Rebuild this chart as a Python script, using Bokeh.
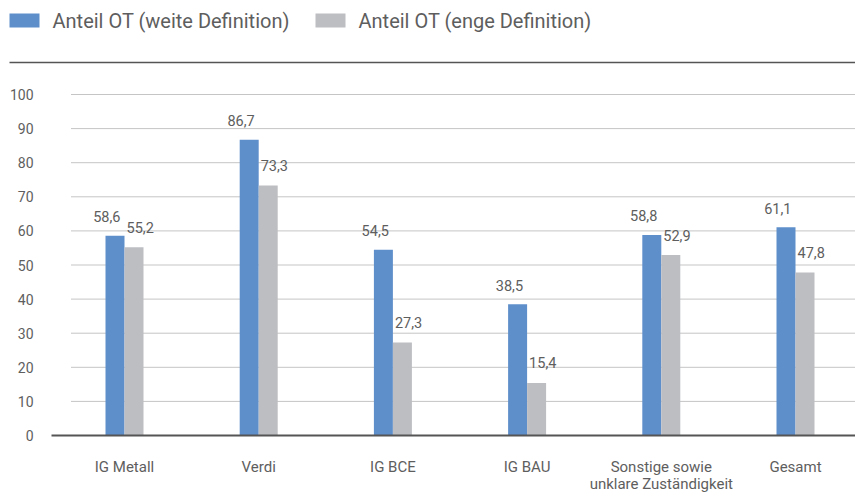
from bokeh.plotting import figure
from bokeh.models import Range1d, ColumnDataSource
from bokeh.core.properties import value
from bokeh.embed import file_html
from bokeh.resources import INLINE

categories = ["IG Metall", "Verdi", "IG BCE", "IG BAU", "Sonstige sowie\nunklare Zuständigkeit", "Gesamt"]
series_names = ["Anteil OT (weite Definition)", "Anteil OT (enge Definition)"]
weite = [58.6, 86.7, 54.5, 38.5, 58.8, 61.1]
enge = [55.2, 73.3, 27.3, 15.4, 52.9, 47.8]
y_ticks = [0, 10, 20, 30, 40, 50, 60, 70, 80, 90, 100]

BLUE = "#5f8fcb"
GREY = "#bdbec2"
TXT = "#5e5e5e"
LINE = "#555555"
FONT = "Roboto"

# page-pixel helpers for layout styling (category centre spacing / y scale)
CX0, CDX = 124.0, 134.2     # page px of first category centre, px per category
Y0, DY = 435.0, 3.41        # page px of value 0, px per unit


def px2x(px):
    return (px - CX0) / CDX


def px2y(py):
    return (Y0 - py) / DY


W, H = 855, 495
p = figure(width=W, height=H,
           x_range=Range1d(px2x(0), px2x(W)), y_range=Range1d(px2y(H), px2y(0)),
           x_axis_location=None, y_axis_location=None,
           output_backend="svg", toolbar_location=None,
           min_border_left=0, min_border_right=0, min_border_top=0, min_border_bottom=0)
p.outline_line_color = None
p.grid.visible = False

# legend (top strip)
p.quad(left=[px2x(9), px2x(315)], right=[px2x(39), px2x(345)],
       top=[px2y(13)] * 2, bottom=[px2y(27)] * 2,
       fill_color=[BLUE, GREY], line_color=None)
p.text(x=[px2x(52), px2x(358)], y=[px2y(20)] * 2, text=series_names, text_font=value(FONT),
       text_font_size="20px", text_color=TXT, text_baseline="middle", text_align="left")
p.segment(x0=[px2x(9)], x1=[px2x(855)], y0=[px2y(62)], y1=[px2y(62)],
          line_color=LINE, line_width=1.5)

# grid lines
gy = [t for t in y_ticks if t > 0]
p.segment(x0=[px2x(71)] * len(gy), x1=[px2x(855)] * len(gy), y0=gy, y1=gy,
          line_color="#8a8a8a", line_width=1, line_dash="1 1")

# y tick labels
p.text(x=[px2x(33)] * len(y_ticks), y=y_ticks, text=[str(t) for t in y_ticks],
       text_font=value(FONT), text_font_size="14px", text_color=TXT,
       text_align="right", text_baseline="middle")

# bars
x = list(range(len(categories)))
bw = 19 / CDX
src = ColumnDataSource(dict(
    xb=[i - bw / 2 for i in x], xg=[i + bw / 2 for i in x],
    weite=weite, enge=enge,
    lw=[f"{v:.1f}".replace(".", ",") for v in weite],
    le=[f"{v:.1f}".replace(".", ",") for v in enge],
    xlb=[i - 4 / CDX for i in x], xlg=[i + 2 / CDX for i in x],
    ylw=[v + 19 / DY for v in weite], yle=[v + 20 / DY for v in enge],
))
p.vbar(x="xb", top="weite", width=bw, bottom=0, fill_color=BLUE, line_color=None, source=src)
p.vbar(x="xg", top="enge", width=bw, bottom=0, fill_color=GREY, line_color=None, source=src)
p.text(x="xlb", y="ylw", text="lw", source=src, text_font=value(FONT), text_font_size="14.5px",
       text_color=TXT, text_align="right", text_baseline="middle")
p.text(x="xlg", y="yle", text="le", source=src, text_font=value(FONT), text_font_size="14.5px",
       text_color=TXT, text_align="left", text_baseline="middle")

# zero line
p.segment(x0=[px2x(51)], x1=[px2x(855)], y0=[0], y1=[0], line_color=LINE, line_width=2)

# category labels (one text row per line of each label)
lx, ly, lt = [], [], []
for i, c in enumerate(categories):
    for k, line in enumerate(c.split("\n")):
        lx.append(i)
        ly.append(px2y(466 + 17 * k))
        lt.append(line)
p.text(x=lx, y=ly, text=lt, text_font=value(FONT), text_font_size="15px", text_color=TXT,
       text_align="center", text_baseline="middle")

open("out.html", "w").write(file_html(p, INLINE))
